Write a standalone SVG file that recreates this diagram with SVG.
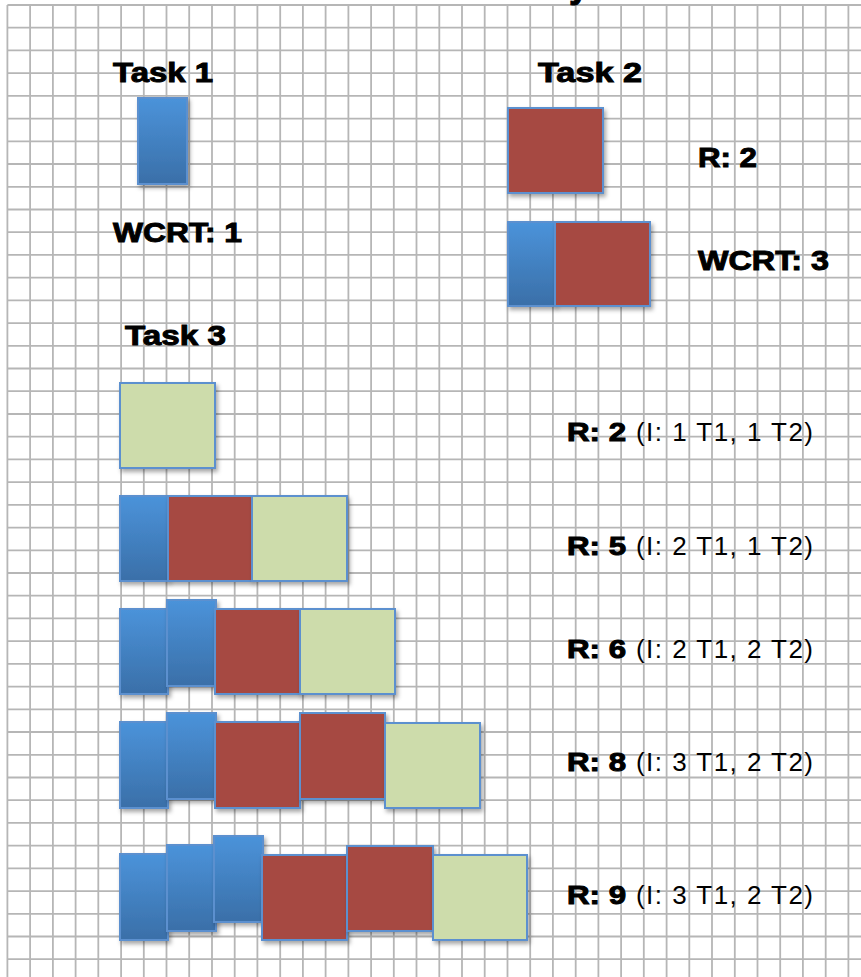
<svg xmlns="http://www.w3.org/2000/svg" width="861" height="977" viewBox="0 0 861 977">
<defs>
<style>
.grid{stroke:#b6b6b6;stroke-width:1.8;fill:none}
.h{font-family:"Liberation Sans",Arial,sans-serif;font-weight:bold;fill:#000;stroke:#000;stroke-width:1}
.r{font-family:"Liberation Sans",Arial,sans-serif;fill:#000}
.b{fill:url(#gb);stroke:#5b90cf;stroke-width:2;filter:url(#sh)}
.rd{fill:#a64a43;stroke:#5b90cf;stroke-width:2;filter:url(#sh)}
.g{fill:#cddcab;stroke:#5b90cf;stroke-width:2;filter:url(#sh)}
</style>
<linearGradient id="gb" x1="0" y1="0" x2="0" y2="1">
<stop offset="0" stop-color="#4b93da"/>
<stop offset="1" stop-color="#3a6fa8"/>
</linearGradient>
<filter id="sh" x="-20%" y="-20%" width="150%" height="150%">
<feDropShadow dx="2" dy="3" stdDeviation="2" flood-color="#000" flood-opacity="0.35"/>
</filter>
</defs>
<rect width="861" height="977" fill="#fff"/>
<g id="grid" class="grid">
<path d="M7.4 5V977M30.1 5V977M52.9 5V977M75.6 5V977M98.3 5V977M121.1 5V977M143.8 5V977M166.5 5V977M189.2 5V977M212 5V977M234.7 5V977M257.4 5V977M280.2 5V977M302.9 5V977M325.6 5V977M348.4 5V977M371.1 5V977M393.8 5V977M416.5 5V977M439.3 5V977M462 5V977M484.7 5V977M507.5 5V977M530.2 5V977M552.9 5V977M575.7 5V977M598.4 5V977M621.1 5V977M643.8 5V977M666.6 5V977M689.3 5V977M712 5V977M734.8 5V977M757.5 5V977M780.2 5V977M802.9 5V977M825.7 5V977M848.4 5V977"/>
<path d="M7.4 5H861M7.4 27.7H861M7.4 50.4H861M7.4 73.2H861M7.4 95.9H861M7.4 118.6H861M7.4 141.3H861M7.4 164H861M7.4 186.8H861M7.4 209.5H861M7.4 232.2H861M7.4 254.9H861M7.4 277.6H861M7.4 300.4H861M7.4 323.1H861M7.4 345.8H861M7.4 368.5H861M7.4 391.2H861M7.4 414H861M7.4 436.7H861M7.4 459.4H861M7.4 482.1H861M7.4 504.8H861M7.4 527.6H861M7.4 550.3H861M7.4 573H861M7.4 595.7H861M7.4 618.4H861M7.4 641.2H861M7.4 663.9H861M7.4 686.6H861M7.4 709.3H861M7.4 732H861M7.4 754.8H861M7.4 777.5H861M7.4 800.2H861M7.4 822.9H861M7.4 845.6H861M7.4 868.4H861M7.4 891.1H861M7.4 913.8H861M7.4 936.5H861M7.4 959.2H861"/>
</g>
<text class="h" x="569" y="-3" font-size="36">y</text>
<g id="task1">
<text class="h" x="113" y="82" font-size="28" textLength="100" lengthAdjust="spacingAndGlyphs">Task 1</text>
<rect class="b" x="138" y="98" width="49" height="86"/>
<text class="h" x="113" y="242" font-size="28" textLength="129" lengthAdjust="spacingAndGlyphs">WCRT: 1</text>
</g>
<g id="task2">
<text class="h" x="538" y="82" font-size="28" textLength="104" lengthAdjust="spacingAndGlyphs">Task 2</text>
<rect class="rd" x="508" y="108" width="95" height="85"/>
<text class="h" x="698" y="167" font-size="28" textLength="59" lengthAdjust="spacingAndGlyphs">R: 2</text>
<rect class="b" x="508" y="222" width="47" height="84"/>
<rect class="rd" x="555" y="222" width="95" height="84"/>
<text class="h" x="698" y="270" font-size="28" textLength="131" lengthAdjust="spacingAndGlyphs">WCRT: 3</text>
</g>
<g id="task3">
<text class="h" x="125" y="345" font-size="28" textLength="101" lengthAdjust="spacingAndGlyphs">Task 3</text>
</g>
<g id="row1">
<rect class="g" x="120" y="383" width="95" height="85"/>
<text x="567" y="441" font-size="26"><tspan class="h" textLength="59" lengthAdjust="spacingAndGlyphs">R: 2</tspan><tspan class="r" x="636" textLength="177" lengthAdjust="spacing">(I: 1 T1, 1 T2)</tspan></text>
</g>
<g id="row2">
<rect class="b" x="120" y="496" width="48" height="85"/>
<rect class="rd" x="168" y="496" width="84" height="85"/>
<rect class="g" x="252" y="496" width="95" height="85"/>
<text x="567" y="555" font-size="26"><tspan class="h" textLength="59" lengthAdjust="spacingAndGlyphs">R: 5</tspan><tspan class="r" x="636" textLength="177" lengthAdjust="spacing">(I: 2 T1, 1 T2)</tspan></text>
</g>
<g id="row3">
<rect class="b" x="120" y="609" width="48" height="85"/>
<rect class="b" x="167" y="600" width="49" height="86"/>
<rect class="rd" x="215" y="609" width="85" height="85"/>
<rect class="g" x="300" y="609" width="95" height="85"/>
<text x="567" y="658" font-size="26"><tspan class="h" textLength="59" lengthAdjust="spacingAndGlyphs">R: 6</tspan><tspan class="r" x="636" textLength="177" lengthAdjust="spacing">(I: 2 T1, 2 T2)</tspan></text>
</g>
<g id="row4">
<rect class="b" x="120" y="722" width="48" height="86"/>
<rect class="b" x="167" y="713" width="49" height="86"/>
<rect class="rd" x="215" y="722" width="85" height="86"/>
<rect class="rd" x="300" y="713" width="85" height="86"/>
<rect class="g" x="385" y="723" width="95" height="85"/>
<text x="567" y="771" font-size="26"><tspan class="h" textLength="59" lengthAdjust="spacingAndGlyphs">R: 8</tspan><tspan class="r" x="636" textLength="177" lengthAdjust="spacing">(I: 3 T1, 2 T2)</tspan></text>
</g>
<g id="row5">
<rect class="b" x="120" y="854" width="48" height="86"/>
<rect class="b" x="167" y="845" width="49" height="86"/>
<rect class="b" x="214" y="836" width="49" height="86"/>
<rect class="rd" x="262" y="855" width="85" height="85"/>
<rect class="rd" x="347" y="846" width="86" height="85"/>
<rect class="g" x="433" y="855" width="94" height="85"/>
<text x="567" y="904" font-size="26"><tspan class="h" textLength="59" lengthAdjust="spacingAndGlyphs">R: 9</tspan><tspan class="r" x="636" textLength="177" lengthAdjust="spacing">(I: 3 T1, 2 T2)</tspan></text>
</g>
<g id="connectors"/>
</svg>
